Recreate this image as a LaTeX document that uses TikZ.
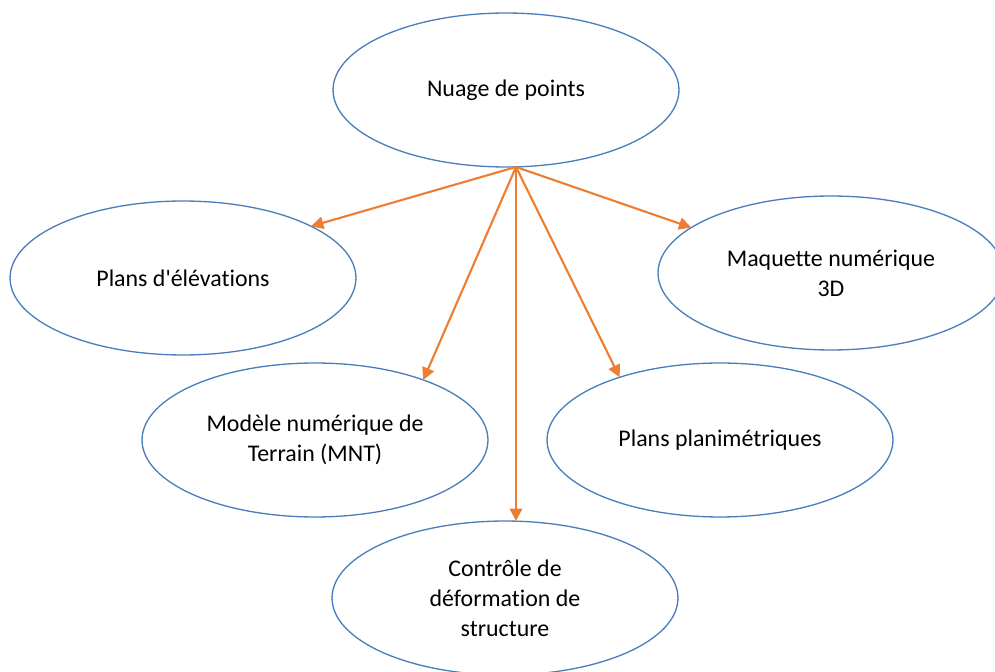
\documentclass[tikz,border=0pt]{standalone}
\usepackage{fontspec}
\setmainfont{Carlito}[Ligatures=NoCommon]
\usepackage{xcolor}
\usepackage{tikz}
\usetikzlibrary{
	shapes.geometric,
	arrows.meta
}
\definecolor{bulleBleu}{RGB}{74,126,187}
\definecolor{flecheOrange}{RGB}{237,125,49}
\tikzset{
	bulle/.style={ellipse, draw=bulleBleu, line width=0.75pt, minimum width=6.92cm, minimum height=3.08cm, inner sep=0pt, outer sep=0pt, align=center, font=\fontsize{13.6}{17}\selectfont},
	fleche/.style={draw=flecheOrange, line width=1.2pt, -{Triangle[length=7pt,width=7pt]}}
}

\begin{document}
\begin{tikzpicture}[x=0.02cm, y=-0.02cm]
		\useasboundingbox (0,0) rectangle (995,672);
		\node [bulle] (nuage) at (506, 90) {Nuage de points};
		\node [bulle] (elev) at (183, 278) {Plans d\textquotesingle élévations};
		\node [bulle] (maq) at (831, 273) {Maquette numérique\\3D};
		\node [bulle] (mnt) at (315, 440) {Modèle numérique de\\Terrain (MNT)};
		\node [bulle] (plan) at (720, 440) {Plans planimétriques};
		\node [bulle] (ctrl) at (505, 598) {Contrôle de\\déformation de\\structure};
		\coordinate (src) at ([xshift=0.2cm]nuage.south);
		\draw [fleche] (src) -- (elev.22);
		\draw [fleche] (src) -- (mnt.29);
		\draw [fleche] (src) -- (src |- ctrl.north);
		\draw [fleche] (src) -- (plan.148);
		\draw [fleche] (src) -- (maq.162);
	\end{tikzpicture}
\end{document}
